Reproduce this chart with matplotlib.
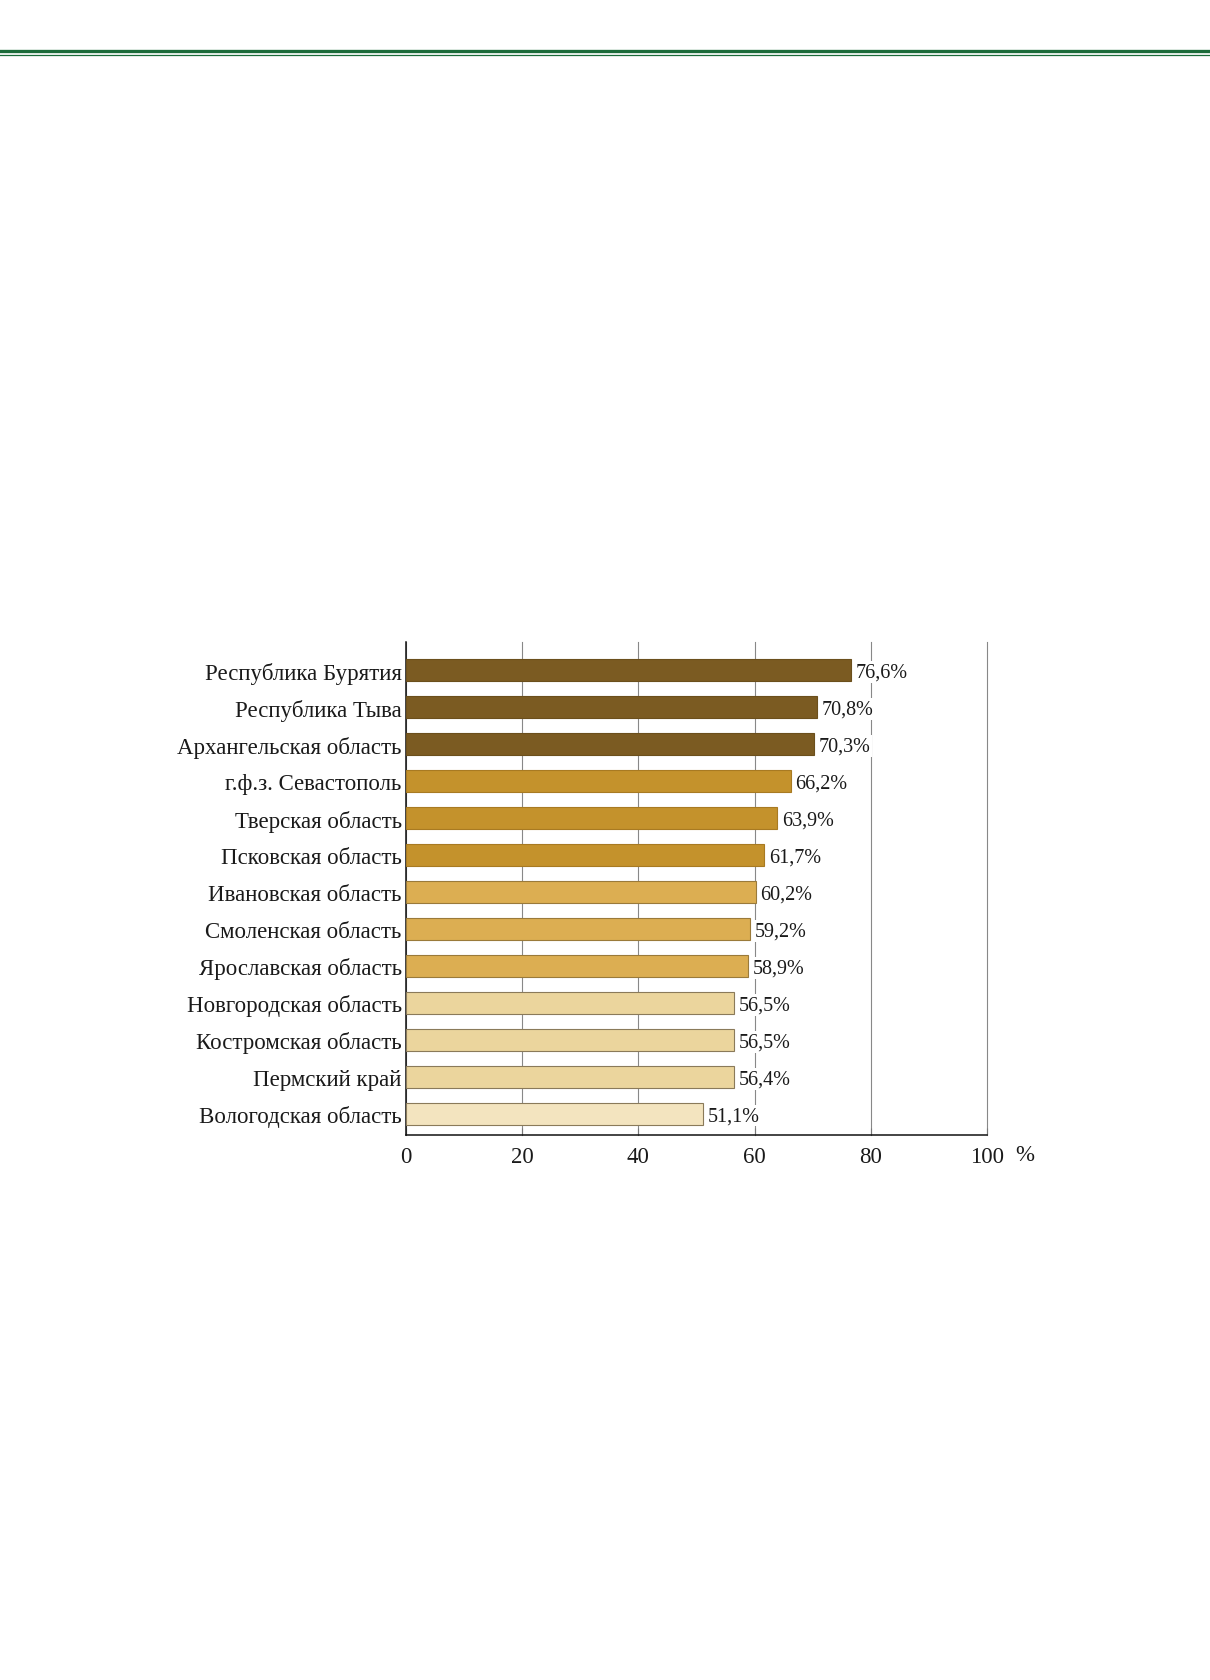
import matplotlib
matplotlib.use("Agg")
import matplotlib.pyplot as plt
from matplotlib.lines import Line2D

plt.rcParams['font.family'] = ['Liberation Serif', 'DejaVu Serif']

regions = ['Республика Бурятия', 'Республика Тыва', 'Архангельская область',
           'г.ф.з. Севастополь', 'Тверская область', 'Псковская область',
           'Ивановская область', 'Смоленская область', 'Ярославская область',
           'Новгородская область', 'Костромская область', 'Пермский край',
           'Вологодская область']
values = [76.6, 70.8, 70.3, 66.2, 63.9, 61.7, 60.2, 59.2, 58.9, 56.5, 56.5, 56.4, 51.1]
colors = ['#7b5b22'] * 3 + ['#c4922c'] * 3 + ['#dcae52'] * 3 + ['#ebd59d'] * 3 + ['#f3e4bf']
edges = ['#6b4f1c'] * 3 + ['#a87a22'] * 3 + ['#9a7a3a'] * 3 + ['#8a7a5a'] * 4
xticks = [0, 20, 40, 60, 80, 100]

fig = plt.figure(figsize=(12.1, 16.81), dpi=100)

# green rules at the top of the page
fig.add_artist(Line2D([0, 1], [1 - 52.3 / 1681] * 2, color='#1b6b3a', lw=2.4))
fig.add_artist(Line2D([0, 1], [1 - 56.2 / 1681] * 2, color='#1b6b3a', lw=0.9))

ax = fig.add_axes([0.3355, 0.3242, 0.8157 - 0.3355, 0.6175 - 0.3242])
pos = list(range(len(regions)))
ax.barh(pos, values, height=0.58, color=colors, edgecolor=edges, linewidth=0.8, zorder=3)

for p, v in zip(pos, values):
    ax.text(v + 0.8, p + 0.05, f"{v:.1f}".replace('.', ',') + '%', va='center', ha='left',
            fontsize=14.5, color='#1a1a1a', zorder=4,
            bbox=dict(facecolor='white', edgecolor='none', pad=0.8))

ax.set_xlim(0, 100)
ax.set_ylim(12.57, -0.76)
ax.set_yticks(pos)
ax.set_yticklabels(regions, fontsize=16.5, color='#1a1a1a')
ax.set_xticks(xticks)
ax.set_xticklabels([str(t) for t in xticks], fontsize=16.5, color='#1a1a1a')
ax.tick_params(axis='y', length=0, pad=3)
ax.tick_params(axis='x', direction='in', length=5, color='#777777', pad=8)

ax.grid(axis='x', color='#888888', lw=0.8, zorder=0)
for gl in ax.get_xgridlines():
    gl.set_clip_on(False)
for s in ['top', 'right']:
    ax.spines[s].set_visible(False)
for s in ['left', 'bottom']:
    ax.spines[s].set_color('#111111')
    ax.spines[s].set_linewidth(1.1)

ax.text(106.5, 12.57 + 0.25, '%', ha='center', va='top', fontsize=16.5, color='#1a1a1a')

fig.savefig('out.png', dpi=100)
